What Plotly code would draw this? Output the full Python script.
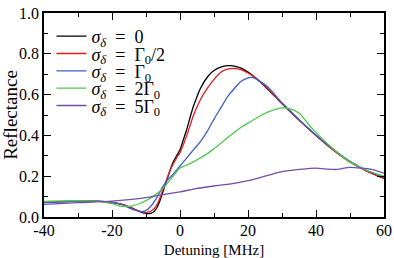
import plotly.graph_objects as go

# ---- data ----
x_black = [-40, -35, -30, -25, -20, -17, -15, -13, -11, -10, -9, -8, -7, -6, -5, -4, -3, -2, -1, 0, 1, 2, 3, 4, 5, 6, 8, 10, 12, 14, 15, 16, 18, 20, 22, 25, 28, 30, 35, 40, 45, 50, 55, 60]
r_black = [0.072, 0.075, 0.078, 0.078, 0.072, 0.062, 0.05, 0.035, 0.022, 0.018, 0.017, 0.022, 0.04, 0.075, 0.125, 0.175, 0.225, 0.27, 0.30, 0.33, 0.38, 0.43, 0.49, 0.545, 0.59, 0.63, 0.685, 0.718, 0.735, 0.742, 0.742, 0.74, 0.73, 0.71, 0.685, 0.64, 0.59, 0.556, 0.475, 0.40, 0.33, 0.27, 0.225, 0.19]

x_red = [-40, -30, -25, -20, -17, -15, -13, -11, -10, -9, -8, -7, -6, -5, -4, -3, -2, -1, 0, 2, 4, 6, 8, 10, 12, 14, 16, 18, 20, 22, 25, 30, 35, 40, 45, 50, 55, 60]
r_red = [0.072, 0.078, 0.078, 0.072, 0.062, 0.05, 0.035, 0.025, 0.023, 0.025, 0.035, 0.055, 0.09, 0.135, 0.18, 0.225, 0.26, 0.29, 0.315, 0.40, 0.50, 0.575, 0.63, 0.675, 0.71, 0.725, 0.728, 0.722, 0.706, 0.685, 0.643, 0.556, 0.475, 0.40, 0.33, 0.27, 0.225, 0.188]

x_blue = [-40, -30, -25, -20, -17, -15, -13, -12, -11, -10, -9, -8, -7, -6, -5, -4, -2, 0, 2, 4, 6, 8, 10, 12, 14, 16, 18, 20, 21, 22, 24, 26, 30, 35, 40, 45, 50, 55, 60]
r_blue = [0.07, 0.078, 0.078, 0.073, 0.06, 0.045, 0.032, 0.028, 0.027, 0.032, 0.045, 0.065, 0.09, 0.12, 0.15, 0.175, 0.21, 0.25, 0.29, 0.33, 0.37, 0.42, 0.48, 0.535, 0.59, 0.63, 0.665, 0.682, 0.684, 0.68, 0.66, 0.635, 0.56, 0.478, 0.402, 0.333, 0.273, 0.228, 0.195]

x_green = [-40, -35, -30, -25, -22, -20, -18, -16, -14, -12, -10, -8, -6, -4, -2, 0, 2, 4, 6, 8, 10, 13, 16, 18, 20, 23, 26, 28, 30, 32, 35, 38, 40, 45, 50, 55, 60]
r_green = [0.077, 0.079, 0.08, 0.078, 0.072, 0.065, 0.055, 0.052, 0.055, 0.065, 0.08, 0.10, 0.125, 0.16, 0.2, 0.24, 0.255, 0.27, 0.29, 0.31, 0.335, 0.375, 0.415, 0.44, 0.46, 0.49, 0.515, 0.527, 0.535, 0.533, 0.51, 0.45, 0.415, 0.335, 0.27, 0.228, 0.20]

x_purple = [-40, -30, -20, -15, -10, -5, 0, 5, 10, 15, 20, 25, 30, 35, 40, 43, 46, 50, 53, 56, 60]
r_purple = [0.062, 0.07, 0.078, 0.085, 0.095, 0.11, 0.123, 0.14, 0.152, 0.162, 0.178, 0.2, 0.222, 0.233, 0.24, 0.235, 0.233, 0.243, 0.24, 0.235, 0.215]

EQ = "\u2002=\u2002"
series_names = [
    "<i>σ</i><sub><i>δ</i></sub>" + EQ + "0",
    "<i>σ</i><sub><i>δ</i></sub>" + EQ + "Γ<sub>0</sub>/2",
    "<i>σ</i><sub><i>δ</i></sub>" + EQ + "Γ<sub>0</sub>",
    "<i>σ</i><sub><i>δ</i></sub>" + EQ + "2Γ<sub>0</sub>",
    "<i>σ</i><sub><i>δ</i></sub>" + EQ + "5Γ<sub>0</sub>",
]
series_colors = ["#000000", "#e6191f", "#3f5fc8", "#4cc84c", "#7050a8"]

x_tickvals = [-40, -20, 0, 20, 40, 60]
x_ticktext = ["-40", "-20", "0", "20", "40", "60"]
y_tickvals = [0.0, 0.2, 0.4, 0.6, 0.8, 1.0]
y_ticktext = ["0.0", "0.2", "0.4", "0.6", "0.8", "1.0"]

FONT = "Liberation Serif"

# legend rows: one legend per series, stacked with a fixed row spacing
LEG_TOP = 0.885
LEG_STEP = 0.085
legend_ids = ["legend"] + ["legend%d" % (i + 1) for i in range(1, len(series_names))]

fig = go.Figure()
for i, (xs, ys, name, col) in enumerate(zip(
        [x_black, x_red, x_blue, x_green, x_purple],
        [r_black, r_red, r_blue, r_green, r_purple],
        series_names, series_colors)):
    fig.add_trace(go.Scatter(x=xs, y=ys, mode="lines", name=name, legend=legend_ids[i],
                             line=dict(color=col, width=1.3, shape="spline", smoothing=0.8)))

axis_common = dict(
    showline=True, linecolor="black", linewidth=1.5, mirror="ticks",
    ticks="inside", ticklen=7, tickwidth=1.2, tickcolor="black",
    showgrid=False, zeroline=False, automargin=False,
    tickfont=dict(family=FONT, size=16, color="black"),
)

fig.update_xaxes(range=[-40, 60], tickvals=x_tickvals, ticktext=x_ticktext,
                 ticklabelstandoff=-2,
                 minor=dict(dtick=10, tick0=0, ticks="inside", ticklen=4, tickcolor="black", tickwidth=1.2),
                 title=dict(text="Detuning [MHz]", font=dict(family=FONT, size=15, color="black"), standoff=8),
                 **axis_common)
fig.update_yaxes(range=[0, 1.0], tickvals=y_tickvals, ticktext=y_ticktext,
                 minor=dict(dtick=0.1, tick0=0, ticks="inside", ticklen=4, tickcolor="black", tickwidth=1.2),
                 title=dict(text="Reflectance", font=dict(family=FONT, size=19, color="black"), standoff=0),
                 **axis_common)

legend_layout = {}
for i, lid in enumerate(legend_ids):
    legend_layout[lid] = dict(
        x=0.022, y=LEG_TOP - i * LEG_STEP, xanchor="left", yanchor="middle",
        bgcolor="rgba(0,0,0,0)", borderwidth=0,
        font=dict(family=FONT, size=18, color="black"),
        itemwidth=30,
    )

fig.update_layout(
    width=394, height=258,
    margin=dict(l=44, r=10, t=13, b=41),
    paper_bgcolor="white", plot_bgcolor="white",
    showlegend=True,
    **legend_layout,
)

fig.write_html("out.html", config={"displayModeBar": False},
               post_script="document.body.style.margin='0px';")
